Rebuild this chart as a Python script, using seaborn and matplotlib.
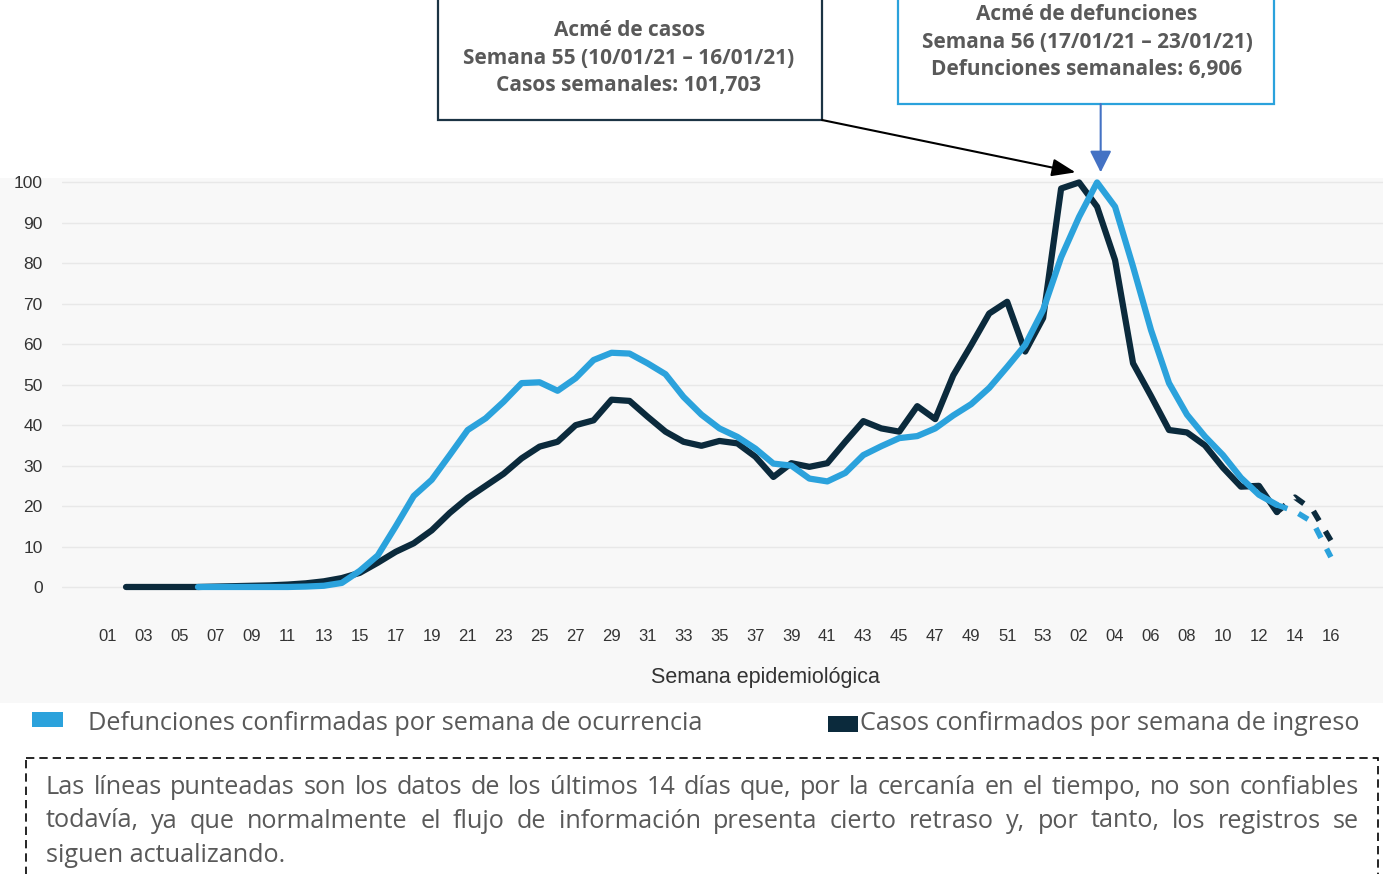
import matplotlib
matplotlib.use('Agg')
import matplotlib.pyplot as plt
import seaborn as sns
import numpy as np
import pandas as pd
from matplotlib.patches import Rectangle

# Semanas epidemiológicas: 2020 (01-53) y 2021 (01-16)
semanas = [f'{s:02d}' for s in range(1, 54)] + [f'{s:02d}' for s in range(1, 17)]

# Casos confirmados por semana de ingreso (% respecto al máximo)
casos = [None, 0, 0, 0, 0, 0, 0.1, 0.2, 0.3, 0.4, 0.6, 0.9, 1.4, 2.2, 3.5, 6.0,
         8.7, 10.8, 14.0, 18.3, 22.0, 25.0, 28.0, 31.8, 34.7, 35.9, 40.0, 41.2,
         46.3, 46.0, 42.1, 38.4, 35.9, 34.9, 36.1, 35.5, 32.2, 27.2, 30.6, 29.7,
         30.6, 35.9, 41.0, 39.2, 38.4, 44.7, 41.5, 52.3, 59.8, 67.6, 70.5, 58.2,
         66.5, 98.5, 100.0, 94.0, 80.8, 55.3, 47.2, 38.8, 38.2, 35.0, 29.5, 24.8,
         25.0, 18.5, 22.2, 19.0, 11.5]

# Defunciones confirmadas por semana de ocurrencia (% respecto al máximo)
defunciones = [None, None, None, None, None, 0, 0, 0, 0, 0, 0, 0.1, 0.3, 1.0,
               4.0, 7.8, 15.0, 22.5, 26.5, 32.6, 38.8, 41.7, 45.8, 50.4, 50.6,
               48.5, 51.6, 56.1, 57.9, 57.7, 55.3, 52.6, 47.0, 42.6, 39.2, 37.1,
               34.2, 30.5, 30.0, 26.8, 26.1, 28.2, 32.6, 34.8, 36.8, 37.3, 39.2,
               42.4, 45.2, 49.2, 54.4, 59.8, 68.5, 81.5, 91.5, 100.0, 94.0, 79.2,
               63.5, 50.4, 42.6, 37.2, 32.6, 27.0, 22.8, 20.3, 18.7, 16.0, 7.4]

# a partir de esta semana los datos son provisionales (línea punteada)
corte = 65

df = pd.DataFrame({'idx': np.arange(len(semanas)), 'semana': semanas,
                   'casos': casos, 'defunciones': defunciones})
df[['casos', 'defunciones']] = df[['casos', 'defunciones']].astype(float)

azul = '#2ba2dc'
oscuro = '#0b2a3c'
gris_txt = '#595959'

W, H = 1383, 874
sns.set_theme(style='white')
plt.rcParams['font.family'] = ['Liberation Sans', 'DejaVu Sans']

fig = plt.figure(figsize=(W / 100, H / 100), dpi=100)

# capa de fondo en pixeles (panel gris, cuadros, leyenda, nota)
ov = fig.add_axes([0, 0, 1, 1], zorder=0)
ov.set_xlim(0, W)
ov.set_ylim(H, 0)
ov.axis('off')
ov.add_patch(Rectangle((0, 178), W, 525, color='#f8f8f8', lw=0))

# ejes del gráfico
ax = fig.add_axes([62 / W, (H - 610) / H, 1 - 62 / W, (610 - 178) / H], zorder=1)
ax.set_facecolor('none')

solido = df[df.idx <= corte]
punteado = df[df.idx >= corte]
sns.lineplot(data=solido, x='idx', y='casos', color=oscuro, lw=4.5, estimator=None, ax=ax)
sns.lineplot(data=punteado, x='idx', y='casos', color=oscuro, lw=4, estimator=None,
             linestyle=(0, (2, 2.2)), ax=ax)
sns.lineplot(data=solido, x='idx', y='defunciones', color=azul, lw=4.5, estimator=None, ax=ax)
sns.lineplot(data=punteado, x='idx', y='defunciones', color=azul, lw=4, estimator=None,
             linestyle=(0, (2, 2.2)), ax=ax)

ax.set_xlim(-2.56, 70.9)
ax.set_ylim(-5.69, 101.1)
ax.set_yticks(range(0, 101, 10))
ax.set_xticks(df.idx[::2])
ax.set_xticklabels(df.semana[::2])
ax.tick_params(axis='x', length=0, pad=14, labelsize=12, labelcolor='#333333')
ax.tick_params(axis='y', length=0, pad=14, labelsize=12.5, labelcolor='#333333')
ax.grid(axis='y', color='#e8e8e8', lw=1)
ax.set_xlabel('')
ax.set_ylabel('')
sns.despine(ax=ax, left=True, bottom=True)

ov.text(765, 677, 'Semana epidemiológica', ha='center', va='center',
        fontsize=15.5, color='#333333')

# cuadros de acmé
fuente = ['Open Sans', 'DejaVu Sans']
ov.add_patch(Rectangle((438, -10), 384, 130, fc='white', ec='#1c3444', lw=1.6))
for y, t in zip([31, 58, 85], ['Acmé de casos', 'Semana 55 (10/01/21 – 16/01/21)',
                                'Casos semanales: 101,703']):
    ov.text(629, y, t, ha='center', va='center', fontsize=15, fontweight='bold',
            color=gris_txt, family=fuente)

ov.add_patch(Rectangle((898, -10), 376, 114, fc='white', ec=azul, lw=1.6))
for y, t in zip([15, 42, 69], ['Acmé de defunciones', 'Semana 56 (17/01/21 – 23/01/21)',
                                'Defunciones semanales: 6,906']):
    ov.text(1087, y, t, ha='center', va='center', fontsize=15, fontweight='bold',
            color=gris_txt, family=fuente)

i_caso = int(df.casos.idxmax())
i_def = int(df.defunciones.idxmax())
ax.annotate('', xy=(i_caso - 0.2, df.casos[i_caso] + 2.5), xycoords='data',
            xytext=(822, H - 120), textcoords='figure pixels', annotation_clip=False,
            arrowprops=dict(arrowstyle='-|>,head_length=1.2,head_width=0.45',
                            color='black', lw=1.5, shrinkA=0, shrinkB=0, mutation_scale=12))
ax.annotate('', xy=(i_def + 0.2, df.defunciones[i_def] + 2.5), xycoords='data',
            xytext=(i_def + 0.2, H - 104), textcoords=('data', 'figure pixels'),
            annotation_clip=False,
            arrowprops=dict(arrowstyle='-|>,head_length=1.1,head_width=0.55',
                            color='#4472c4', lw=1.5, shrinkA=0, shrinkB=0, mutation_scale=12))

# leyenda
tam = 18.2
ov.add_patch(Rectangle((32, 712), 31, 15, color=azul, lw=0))
ov.text(88, 724, 'Defunciones confirmadas por semana de ocurrencia', ha='left', va='center',
        fontsize=tam, color=gris_txt, family=fuente)
ov.add_patch(Rectangle((828, 716), 30, 16, color=oscuro, lw=0))
ov.text(860, 724, 'Casos confirmados por semana de ingreso', ha='left', va='center',
        fontsize=tam, color=gris_txt, family=fuente)

# nota al pie con texto justificado
ov.add_patch(Rectangle((26, 758), 1352, 140, fill=False, ec='black', lw=1.2,
                       linestyle=(0, (5, 3))))
lineas = ['Las líneas punteadas son los datos de los últimos 14 días que, por la cercanía en el tiempo, no son confiables',
          'todavía, ya que normalmente el flujo de información presenta cierto retraso y, por tanto, los registros se',
          'siguen actualizando.']
renderer = fig.canvas.get_renderer()
for k, (linea, y) in enumerate(zip(lineas, [787, 821, 856])):
    if k == len(lineas) - 1:
        ov.text(46, y, linea, ha='left', va='center', fontsize=tam, color=gris_txt, family=fuente)
        continue
    palabras = linea.split()
    textos = [ov.text(0, y, p, ha='left', va='center', fontsize=tam, color=gris_txt,
                      family=fuente) for p in palabras]
    anchos = [t.get_window_extent(renderer).width for t in textos]
    hueco = (1359 - 46 - sum(anchos)) / (len(palabras) - 1)
    x = 46
    for t, w in zip(textos, anchos):
        t.set_x(x)
        x += w + hueco

fig.savefig('out.png', dpi=100)
